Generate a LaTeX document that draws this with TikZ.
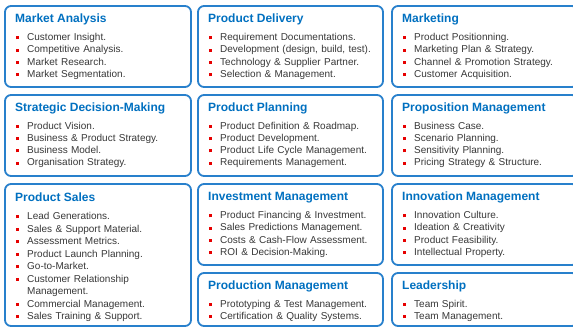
\documentclass[tikz,border=0pt]{standalone}
\usepackage{fontspec}
\setmainfont{Liberation Sans}
\definecolor{boxblue}{RGB}{40,128,204}
\definecolor{titleblue}{RGB}{0,112,192}
\definecolor{textgray}{RGB}{56,56,56}
\definecolor{bulletred}{RGB}{230,0,0}
\newcommand{\sqbul}{\makebox[11pt][l]{\textcolor{bulletred}{\rule[1.2pt]{3pt}{3pt}}}}
\newcommand{\hang}{\hspace*{11pt}}
\tikzset{
  panel/.style={draw=boxblue, line width=1.8pt, rounded corners=6pt, fill=white,
    minimum width=186pt, minimum height=81pt, anchor=north west, inner sep=0pt, outer sep=0pt},
  ptitle/.style={anchor=base west, inner sep=0pt, text=titleblue,
    font=\fontsize{12}{14}\selectfont\bfseries},
  plist/.style={anchor=base west, inner sep=0pt, text width=175pt, align=left,
    text=textgray, font=\fontsize{10}{12.3}\selectfont}
}
\begin{document}
\begin{tikzpicture}[x=1pt,y=-1pt]
\useasboundingbox (0,0) rectangle (573,327);
\clip (0,0) rectangle (573,327);
% first column
\node[panel] (mkt) at (5,6) {};
\node[ptitle] (mkt-t) at ([xshift=10pt,yshift=-16pt]mkt.north west) {Market Analysis};
\node[plist] (mkt-l) at ([xshift=11pt,yshift=-34.5pt]mkt.north west) {\sqbul Customer Insight.\\ \sqbul Competitive Analysis.\\ \sqbul Market Research.\\ \sqbul Market Segmentation.};
\node[panel] (sdm) at (5,95) {};
\node[ptitle] (sdm-t) at ([xshift=10pt,yshift=-16pt]sdm.north west) {Strategic Decision-Making};
\node[plist] (sdm-l) at ([xshift=11pt,yshift=-34pt]sdm.north west) {\sqbul Product Vision.\\ \sqbul Business \& Product Strategy.\\ \sqbul Business Model.\\ \sqbul Organisation Strategy.};
\node[panel,minimum height=142pt] (sales) at (5,184) {};
\node[ptitle] (sales-t) at ([xshift=10pt,yshift=-17.5pt]sales.north west) {Product Sales};
\node[plist,font=\fontsize{10}{12.5}\selectfont] (sales-l) at ([xshift=11pt,yshift=-35.5pt]sales.north west) {\sqbul Lead Generations.\\ \sqbul Sales \& Support Material.\\ \sqbul Assessment Metrics.\\ \sqbul Product Launch Planning.\\ \sqbul Go-to-Market.\\ \sqbul Customer Relationship\\ \hang Management.\\ \sqbul Commercial Management.\\ \sqbul Sales Training \& Support.};
% second column
\node[panel,minimum width=185pt] (deliv) at (198,6) {};
\node[ptitle] (deliv-t) at ([xshift=10pt,yshift=-16pt]deliv.north west) {Product Delivery};
\node[plist] (deliv-l) at ([xshift=11pt,yshift=-34.5pt]deliv.north west) {\sqbul Requirement Documentations.\\ \sqbul Development (design, build, test).\\ \sqbul Technology \& Supplier Partner.\\ \sqbul Selection \& Management.};
\node[panel,minimum width=185pt] (plan) at (198,95) {};
\node[ptitle] (plan-t) at ([xshift=10pt,yshift=-16pt]plan.north west) {Product Planning};
\node[plist] (plan-l) at ([xshift=11pt,yshift=-34pt]plan.north west) {\sqbul Product Definition \& Roadmap.\\ \sqbul Product Development.\\ \sqbul Product Life Cycle Management.\\ \sqbul Requirements Management.};
\node[panel,minimum width=185pt] (invest) at (198,184) {};
\node[ptitle] (invest-t) at ([xshift=10pt,yshift=-16pt]invest.north west) {Investment Management};
\node[plist] (invest-l) at ([xshift=11pt,yshift=-34.5pt]invest.north west) {\sqbul Product Financing \& Investment.\\ \sqbul Sales Predictions Management.\\ \sqbul Costs \& Cash-Flow Assessment.\\ \sqbul ROI \& Decision-Making.};
\node[panel,minimum width=185pt,minimum height=53pt] (prod) at (198,273) {};
\node[ptitle] (prod-t) at ([xshift=10pt,yshift=-16pt]prod.north west) {Production Management};
\node[plist] (prod-l) at ([xshift=11pt,yshift=-34pt]prod.north west) {\sqbul Prototyping \& Test Management.\\ \sqbul Certification \& Quality Systems.};
% third column
\node[panel] (mktg) at (392,6) {};
\node[ptitle] (mktg-t) at ([xshift=10pt,yshift=-16pt]mktg.north west) {Marketing};
\node[plist] (mktg-l) at ([xshift=11pt,yshift=-34.5pt]mktg.north west) {\sqbul Product Positionning.\\ \sqbul Marketing Plan \& Strategy.\\ \sqbul Channel \& Promotion Strategy.\\ \sqbul Customer Acquisition.};
\node[panel] (prop) at (392,95) {};
\node[ptitle] (prop-t) at ([xshift=10pt,yshift=-16pt]prop.north west) {Proposition Management};
\node[plist] (prop-l) at ([xshift=11pt,yshift=-34pt]prop.north west) {\sqbul Business Case.\\ \sqbul Scenario Planning.\\ \sqbul Sensitivity Planning.\\ \sqbul Pricing Strategy \& Structure.};
\node[panel] (innov) at (392,184) {};
\node[ptitle] (innov-t) at ([xshift=10pt,yshift=-16pt]innov.north west) {Innovation Management};
\node[plist] (innov-l) at ([xshift=11pt,yshift=-34.5pt]innov.north west) {\sqbul Innovation Culture.\\ \sqbul Ideation \& Creativity\\ \sqbul Product Feasibility.\\ \sqbul Intellectual Property.};
\node[panel,minimum height=53pt] (lead) at (392,273) {};
\node[ptitle] (lead-t) at ([xshift=10pt,yshift=-16pt]lead.north west) {Leadership};
\node[plist] (lead-l) at ([xshift=11pt,yshift=-34pt]lead.north west) {\sqbul Team Spirit.\\ \sqbul Team Management.};
\end{tikzpicture}
\end{document}
